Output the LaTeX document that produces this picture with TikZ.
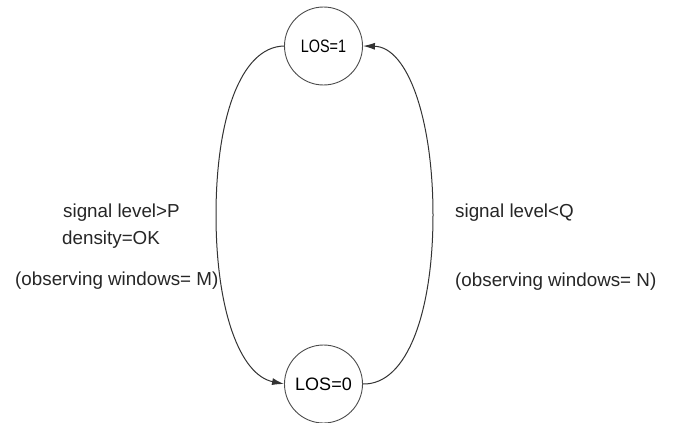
\documentclass[tikz,border=0pt]{standalone}
\usepackage{fontspec}
\setmainfont{Liberation Sans}
\usetikzlibrary{arrows.meta}
\begin{document}
\begin{tikzpicture}[x=1pt,y=-1pt,
  state/.style={circle,draw=black!70,line width=0.9pt,minimum size=78pt,inner sep=0pt,font=\fontsize{18}{20}\selectfont},
  lbl/.style={anchor=west,inner sep=0pt,font=\fontsize{18.8}{22}\selectfont,text=black!85},
  trans/.style={draw=black!80,line width=1pt,-{Latex[length=12pt,width=7pt]}}]
\useasboundingbox[fill=white] (0,0) rectangle (675,423);
\node[state] (one) at (323.5,46) {\scalebox{0.8}[1]{LOS=1}};
\node[state] (zero) at (323.5,384) {LOS=0};
\draw[trans] (one.west) .. controls (240,47) and (216,120) .. (216,215)
  .. controls (216,310) and (240,375) .. (zero.west);
\draw[trans] (zero.east) .. controls (408,385) and (433,310) .. (433,215)
  .. controls (433,120) and (408,47) .. (one.east);
\node[lbl] (p) at (63,213) {signal level>P};
\node[lbl] (ok) at (62,240) {density=OK};
\node[lbl] (m) at (15,281) {(observing windows= M)};
\node[lbl] (q) at (455,213) {signal level<Q};
\node[lbl] (n) at (455,282) {(observing windows= N)};
\end{tikzpicture}
\end{document}
